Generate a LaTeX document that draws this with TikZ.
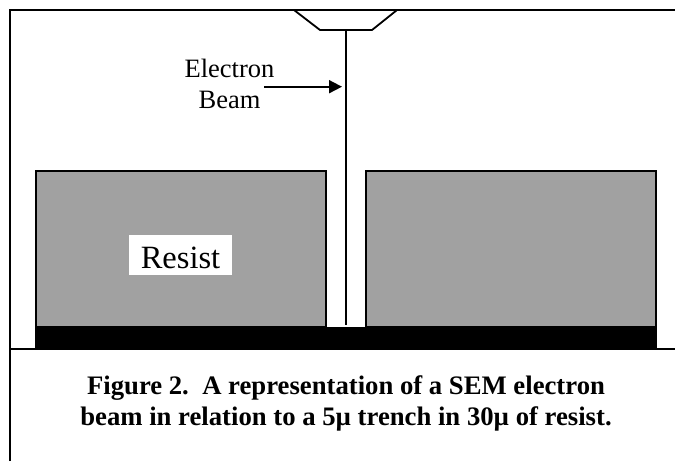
\documentclass[tikz,border=0pt]{standalone}
\usepackage{fontspec}
\setmainfont{Liberation Serif}
\usetikzlibrary{arrows.meta}
\tikzset{
  ln/.style={line width=1.8pt,black},
  block/.style={draw=black,line width=1.8pt,fill=black!37,rectangle,outer sep=0pt,minimum width=290pt,minimum height=156pt,anchor=north west,inner sep=0pt},
  base/.style={fill=black,rectangle,outer sep=0pt,minimum width=622pt,minimum height=22pt,anchor=north west,inner sep=0pt},
  lbl/.style={font=\fontsize{26.5}{31}\selectfont,align=center,inner sep=0pt},
  captext/.style={font=\fontsize{26.7}{31}\selectfont\bfseries,align=center,inner sep=0pt},
}
\begin{document}
\begin{tikzpicture}[x=1pt,y=-1pt]
\useasboundingbox (0,0) rectangle (675,461);
\fill[white] (0,0) rectangle (675,461);
\node[block] (left) at (36,171) {};
\node[block] (right) at (366,171) {};
\node[base] (sub) at (35,326.7) {};
\coordinate (tl) at (10,10);
\coordinate (tr) at (675,10);
\coordinate (bl) at (10,461);
\coordinate (gl) at (10,349);
\coordinate (gr) at (675,349);
\draw[ln] (bl) -- (tl) -- (tr);
\draw[ln] (gl) -- (gr);
\coordinate (t1) at (294,10);
\coordinate (t2) at (320,30);
\coordinate (t3) at (372,30);
\coordinate (t4) at (397,10);
\draw[ln,line join=round] (t1) -- (t2) -- (t3) -- (t4);
\coordinate (bt) at (346,30);
\coordinate (bb) at (346,325);
\draw[ln] (bt) -- (bb);
\node[lbl,anchor=base] (el) at (229.5,108) {Electron\\Beam};
\coordinate (as) at (264,86.7);
\coordinate (ae) at (342,86.7);
\draw[ln,-{Triangle[length=13pt,width=13pt]}] (as) -- (ae);
\node[fill=white,minimum width=103pt,minimum height=40pt,inner sep=0pt,font=\fontsize{32.5}{38}\selectfont] (res) at (180.5,255) {\raisebox{-13pt}[0pt][0pt]{Resist}};
\node[captext,anchor=base] (caption) at (346,425.5) {Figure 2.\ \ A representation of a SEM electron\\beam in relation to a 5µ trench in 30µ of resist.};
\end{tikzpicture}
\end{document}
